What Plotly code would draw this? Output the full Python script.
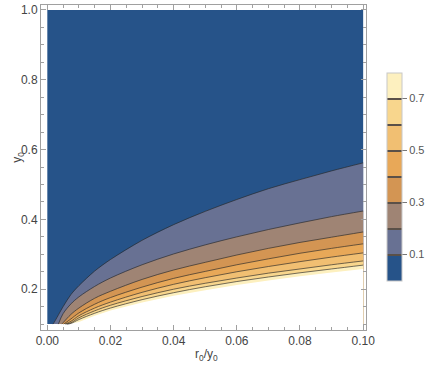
import plotly.graph_objects as go

# Domain of the contour plot
x_domain = [0.0, 0.1]
y_domain = [0.1, 1.0]

# Contour levels and band colours (bands below 0.1, 0.1-0.2, ..., 0.7-0.8)
levels = [0.1, 0.2, 0.3, 0.4, 0.5, 0.6, 0.7]
band_colors = ["#265389", "#687193", "#9f8474", "#d39553",
               "#e8a858", "#f1bf72", "#f8d68d", "#fdf0bf"]
cbar_ticks = [0.1, 0.3, 0.5, 0.7]

# x positions where the contour curves were read
xs = [0.0025, 0.005, 0.0075, 0.01, 0.015, 0.02, 0.03, 0.04, 0.05,
      0.06, 0.07, 0.08, 0.09, 0.10]

# x where each curve leaves the bottom edge y=0.1
start_x = [0.0018, 0.0035, 0.0046, 0.0052, 0.0056, 0.006, 0.0063, 0.0068]

# y of each contour curve at xs (None = below y=0.1)
c01 = [0.11, 0.15, 0.185, 0.21, 0.252, 0.285, 0.34, 0.385, 0.423,
       0.457, 0.488, 0.514, 0.539, 0.562]
c02 = [None, 0.13, 0.158, 0.178, 0.208, 0.232, 0.270, 0.301, 0.327,
       0.350, 0.371, 0.390, 0.408, 0.424]
c03 = [None, 0.104, 0.128, 0.146, 0.174, 0.194, 0.228, 0.255, 0.277,
       0.298, 0.317, 0.334, 0.349, 0.364]
c04 = [None, None, 0.115, 0.132, 0.157, 0.176, 0.206, 0.231, 0.251,
       0.270, 0.287, 0.303, 0.317, 0.330]
c05 = [None, None, 0.108, 0.124, 0.146, 0.163, 0.191, 0.214, 0.233,
       0.250, 0.265, 0.279, 0.292, 0.304]
c06 = [None, None, 0.104, 0.118, 0.138, 0.154, 0.179, 0.200, 0.217,
       0.232, 0.246, 0.258, 0.270, 0.281]
c07 = [None, None, 0.102, 0.113, 0.131, 0.146, 0.170, 0.190, 0.207,
       0.222, 0.235, 0.247, 0.258, 0.269]
# lower edge of the region where the function is defined
edge = [None, None, None, 0.106, 0.124, 0.139, 0.162, 0.181, 0.197,
        0.212, 0.225, 0.237, 0.248, 0.258]

curves = [c01, c02, c03, c04, c05, c06, c07, edge]

FONT = "Liberation Sans, Arial, sans-serif"
LINE = "rgba(40,40,40,0.65)"


def curve_points(x0, ys):
    px = [x0]
    py = [y_domain[0]]
    for x, y in zip(xs, ys):
        if y is not None:
            px.append(x)
            py.append(y)
    return px, py


fig = go.Figure()

# background band (values below 0.1)
fig.add_trace(go.Scatter(
    x=[x_domain[0], x_domain[1], x_domain[1], x_domain[0]],
    y=[y_domain[0], y_domain[0], y_domain[1], y_domain[1]],
    fill="toself", fillcolor=band_colors[0], mode="none",
    hoverinfo="skip", showlegend=False,
))

# each curve fills everything below it with the next band colour
fill_colors = band_colors[1:] + ["white"]
for x0, ys, col in zip(start_x, curves, fill_colors):
    px, py = curve_points(x0, ys)
    px = px + [x_domain[1]]
    py = py + [y_domain[0]]
    fig.add_trace(go.Scatter(
        x=px, y=py, fill="toself", fillcolor=col, mode="none",
        hoverinfo="skip", showlegend=False,
    ))

# contour lines
for x0, ys in zip(start_x[:-1], curves[:-1]):
    px, py = curve_points(x0, ys)
    fig.add_trace(go.Scatter(
        x=px, y=py, mode="lines",
        line=dict(color=LINE, width=1, shape="spline"),
        hoverinfo="skip", showlegend=False,
    ))

# colour bar: discrete bands with thin dark separators at the levels
n = len(band_colors)
half = 0.0025
line_col = "#5a5048"
scale = [[0.0, band_colors[0]]]
for i, col in enumerate(band_colors):
    lo = i / n
    hi = (i + 1) / n
    if i > 0:
        scale.append([lo + half, line_col])
        scale.append([lo + half, col])
    else:
        scale.append([lo, col])
    if i < n - 1:
        scale.append([hi - half, col])
        scale.append([hi - half, line_col])
    else:
        scale.append([hi, col])
scale = scale[1:]

fig.add_trace(go.Scatter(
    x=[x_domain[0]], y=[y_domain[1]], mode="markers",
    marker=dict(
        size=1, opacity=0, color=[0.0], cmin=0.0, cmax=0.8,
        colorscale=scale, showscale=True,
        colorbar=dict(
            tickvals=cbar_ticks, ticktext=[f"{t:.1f}" for t in cbar_ticks],
            ticks="outside", ticklen=5, tickcolor="#777",
            tickfont=dict(family=FONT, size=11, color="#555"),
            thickness=15, len=208, lenmode="pixels",
            x=1.065, xanchor="left", y=0.472, yanchor="middle",
            xpad=0, ypad=0,
            outlinewidth=1, outlinecolor="#c8c8c8",
        ),
    ),
    hoverinfo="skip", showlegend=False,
))

axis_style = dict(
    showgrid=False, zeroline=False, showline=True, linecolor="#a0a0a0",
    linewidth=1, mirror="allticks", ticks="inside", tickcolor="#a0a0a0",
    ticklen=5, automargin=False,
    tickfont=dict(family=FONT, size=12, color="#444"),
)

fig.update_layout(
    width=431, height=368,
    margin=dict(l=41, r=63, t=5, b=38),
    paper_bgcolor="white", plot_bgcolor="white",
    hovermode=False,
    xaxis=dict(
        range=[-0.002, 0.1009], tickvals=[0, 0.02, 0.04, 0.06, 0.08, 0.1],
        tickformat=".2f",
        minor=dict(dtick=0.005, tick0=0, ticks="inside", ticklen=3,
                   tickcolor="#a0a0a0"),
        **axis_style,
    ),
    yaxis=dict(
        range=[0.0831, 1.0143], tickvals=[0.2, 0.4, 0.6, 0.8, 1.0],
        tickformat=".1f",
        minor=dict(dtick=0.05, tick0=0, ticks="inside", ticklen=3,
                   tickcolor="#a0a0a0"),
        **axis_style,
    ),
    annotations=[
        dict(text="r<sub>0</sub>/y<sub>0</sub>", xref="paper", yref="paper",
             x=0.508, y=-0.077, xanchor="center", yanchor="middle",
             showarrow=False, font=dict(family=FONT, size=12, color="#444")),
        dict(text="y<sub>0</sub>", xref="paper", yref="paper",
             x=-0.069, y=0.532, xanchor="center", yanchor="middle",
             textangle=-90, showarrow=False,
             font=dict(family=FONT, size=12, color="#444")),
    ],
)

# the page body has a default 8px margin; drop it so the figure fills the window
fig.write_html("out.html", config={"displayModeBar": False},
               post_script="document.body.style.margin='0';")
